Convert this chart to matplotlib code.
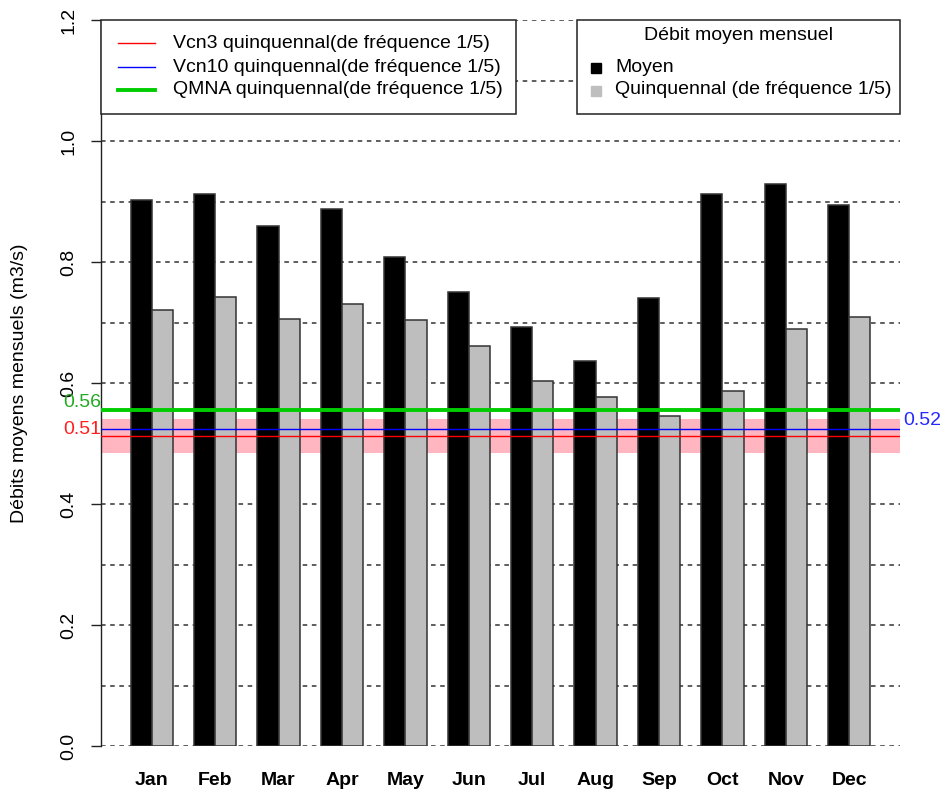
import matplotlib
matplotlib.use("Agg")
import matplotlib.pyplot as plt
from matplotlib.lines import Line2D
from matplotlib.patches import Rectangle
import numpy as np

plt.rcParams['font.family'] = ['Liberation Sans', 'DejaVu Sans']

months = ["Jan", "Feb", "Mar", "Apr", "May", "Jun",
          "Jul", "Aug", "Sep", "Oct", "Nov", "Dec"]
moyen = [0.902, 0.912, 0.860, 0.887, 0.808, 0.750,
         0.693, 0.637, 0.740, 0.913, 0.929, 0.895]
quinquennal = [0.720, 0.742, 0.705, 0.731, 0.704, 0.661,
               0.604, 0.577, 0.546, 0.587, 0.689, 0.709]

vcn3 = 0.512
vcn10 = 0.524
qmna = 0.556
band_low, band_high = 0.484, 0.540

y_ticks = [0.0, 0.2, 0.4, 0.6, 0.8, 1.0, 1.2]
y_grid = [i / 10 for i in range(13)]

line_labels = ["Vcn3 quinquennal(de fréquence 1/5)",
               "Vcn10 quinquennal(de fréquence 1/5)",
               "QMNA quinquennal(de fréquence 1/5)"]
line_colors = ["red", "blue", "#00CD00"]
line_widths = [1.0, 1.0, 2.8]
bar_legend_title = "Débit moyen mensuel"
bar_labels = ["Moyen", "Quinquennal (de fréquence 1/5)"]
bar_colors = ["black", "#BEBEBE"]

W, H = 941, 792
FS = 14

fig = plt.figure(figsize=(W / 100, H / 100), dpi=100)
ax = fig.add_axes([101 / W, 46 / H, 799 / W, 726 / H])


def fx(px):
    return px / W


def fy(py):
    return 1 - py / H


# two unit-wide bars per month, one unit gap between months
left_black = np.array([1 + 3 * i for i in range(len(months))])
ax.set_xlim(-0.4, 37.4)
ax.set_ylim(0, 1.2)

for g in y_grid:
    ax.axhline(g, color="#333333", lw=1.1, ls=(0, (3, 3)), zorder=1)

ax.axhspan(band_low, band_high, color="#FFB6C1", lw=0, zorder=2)

ax.bar(left_black, moyen, width=1, align="edge", color=bar_colors[0],
       edgecolor="#333333", lw=1.1, zorder=3)
ax.bar(left_black + 1, quinquennal, width=1, align="edge", color=bar_colors[1],
       edgecolor="#333333", lw=1.1, zorder=3)

ax.axhline(vcn3, color=line_colors[0], lw=line_widths[0], zorder=4)
ax.axhline(vcn10, color=line_colors[1], lw=line_widths[1], zorder=4)
ax.axhline(qmna, color=line_colors[2], lw=line_widths[2], zorder=4)

ax.annotate(f"{qmna:.2f}", xy=(0, qmna), xycoords=("axes fraction", "data"),
            xytext=(0, 5), textcoords="offset points", ha="right", va="center",
            color="#22AA22", fontsize=FS)
ax.annotate(f"{vcn3:.2f}", xy=(0, vcn3), xycoords=("axes fraction", "data"),
            xytext=(0, 5), textcoords="offset points", ha="right", va="center",
            color="#FF2020", fontsize=FS)
ax.annotate(f"{vcn10:.2f}", xy=(1, vcn10), xycoords=("axes fraction", "data"),
            xytext=(2, 6), textcoords="offset points", ha="left", va="center",
            color="#2828FF", fontsize=FS)

for side in ["top", "right", "bottom"]:
    ax.spines[side].set_visible(False)
ax.spines["left"].set_color("#222222")
ax.spines["left"].set_linewidth(1.0)

ax.set_yticks(y_ticks)
ax.set_yticklabels([f"{t:.1f}" for t in y_ticks], rotation=90, va="center")
ax.tick_params(axis="y", length=7.2, width=1.0, color="#222222", pad=10,
               labelsize=FS)

ax.set_xticks(left_black + 1)
ax.set_xticklabels(months, fontweight="bold", fontsize=FS)
ax.tick_params(axis="x", length=0, pad=19)

fig.text(fx(20), fy(383), "Débits moyens mensuels (m3/s)", rotation=90,
         ha="center", va="center", fontsize=FS)

# legend for the reference lines
fig.add_artist(Rectangle((fx(101), fy(114)), fx(516) - fx(101),
                         fy(20) - fy(114), transform=fig.transFigure,
                         facecolor="white", edgecolor="#222222", lw=1.1,
                         zorder=5))
for row_y, lab, col, lw in zip([43, 67, 90], line_labels, line_colors,
                               line_widths):
    fig.add_artist(Line2D([fx(118), fx(155)], [fy(row_y), fy(row_y)],
                          transform=fig.transFigure, color=col, lw=lw,
                          zorder=6))
    fig.text(fx(173), fy(row_y), lab, ha="left", va="center", fontsize=FS,
             zorder=6)

# legend for the monthly bars
fig.add_artist(Rectangle((fx(577), fy(114)), fx(900) - fx(577),
                         fy(20) - fy(114), transform=fig.transFigure,
                         facecolor="white", edgecolor="#222222", lw=1.1,
                         zorder=5))
fig.text(fx(738.5), fy(35), bar_legend_title, ha="center", va="center",
         fontsize=FS, zorder=6)
for row_y, lab, col in zip([67, 90], bar_labels, bar_colors):
    fig.add_artist(Line2D([fx(596)], [fy(row_y + 1)],
                          transform=fig.transFigure, color=col, marker="s",
                          ls="none", markersize=7.5, zorder=6))
    fig.text(fx(615), fy(row_y), lab, ha="left", va="center", fontsize=FS,
             zorder=6)

fig.savefig("out.png", dpi=100)
